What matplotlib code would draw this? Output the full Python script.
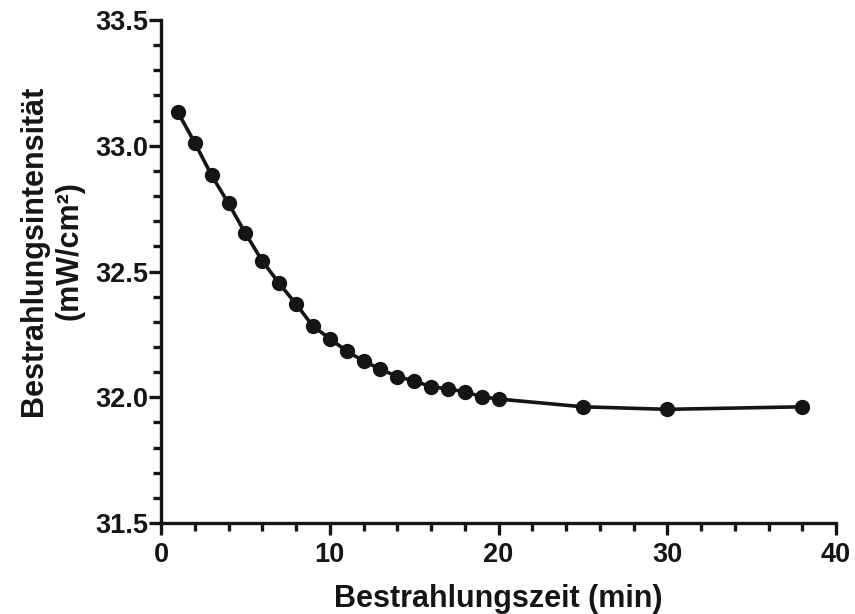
import matplotlib
matplotlib.use("Agg")
import matplotlib.pyplot as plt
from matplotlib.ticker import MultipleLocator, FormatStrFormatter

# Irradiation time (min) and measured irradiance (mW/cm²)
zeit_min = [1, 2, 3, 4, 5, 6, 7, 8, 9, 10, 11, 12, 13, 14, 15, 16, 17, 18, 19, 20, 25, 30, 38]
intensitaet = [33.133, 33.012, 32.882, 32.771, 32.652, 32.542, 32.453, 32.371, 32.283,
               32.233, 32.184, 32.144, 32.112, 32.082, 32.065, 32.042, 32.033, 32.022,
               32.002, 31.993, 31.962, 31.952, 31.962]

x_ticks = [0, 10, 20, 30, 40]
y_ticks = [31.5, 32.0, 32.5, 33.0, 33.5]

plt.rcParams["font.family"] = ["Liberation Sans", "DejaVu Sans"]
plt.rcParams["font.weight"] = "bold"

fig = plt.figure(figsize=(8.55, 6.14), dpi=100)
ax = fig.add_axes([161 / 855, 1 - 523 / 614, (836 - 161) / 855, (523 - 20) / 614])

ink = "#151515"
ax.plot(zeit_min, intensitaet, color=ink, lw=2.6, marker="o", ms=10,
        mfc=ink, mec=ink, clip_on=False, zorder=3)

ax.set_xlim(0, 40)
ax.set_ylim(31.5, 33.5)
ax.set_xticks(x_ticks)
ax.set_yticks(y_ticks)
ax.xaxis.set_minor_locator(MultipleLocator(2))
ax.yaxis.set_minor_locator(MultipleLocator(0.1))
ax.yaxis.set_major_formatter(FormatStrFormatter("%.1f"))

for side in ("top", "right"):
    ax.spines[side].set_visible(False)
for side in ("left", "bottom"):
    ax.spines[side].set_linewidth(2.4)
    ax.spines[side].set_color(ink)

ax.tick_params(which="major", length=8.5, width=2.4, color=ink)
ax.tick_params(which="minor", length=5.5, width=2.4, color=ink)
ax.tick_params(axis="y", which="major", pad=0.5)
ax.tick_params(axis="x", which="major", pad=5)
for lab in ax.get_xticklabels() + ax.get_yticklabels():
    lab.set_fontsize(19.5)
    lab.set_fontweight("bold")
    lab.set_color(ink)

ax.set_xlabel("Bestrahlungszeit (min)", fontsize=22, fontweight="bold",
              color=ink, labelpad=12)

fig.text(52 / 855, 1 - 251 / 614, "Bestrahlungsintensität\n(mW/cm²)",
         rotation=90, ha="center", va="center", multialignment="center",
         fontsize=22, fontweight="bold", color=ink, linespacing=1.25)

fig.savefig("out.png", dpi=100, facecolor="white")
